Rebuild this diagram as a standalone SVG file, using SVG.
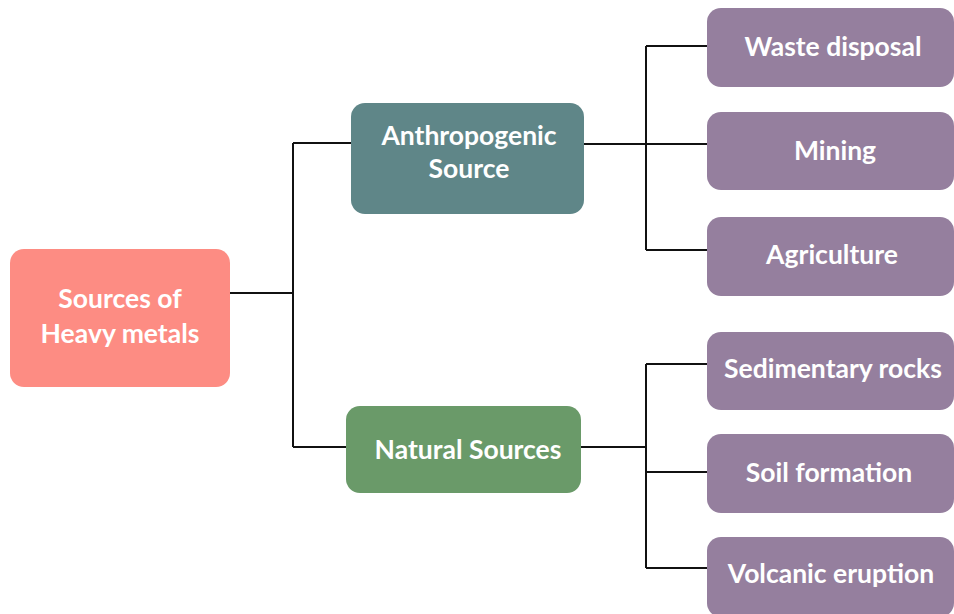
<svg xmlns="http://www.w3.org/2000/svg" width="954" height="614" viewBox="0 0 954 614">
<style>
.t{font-family:Lato,"Open Sans","Liberation Sans",sans-serif;font-weight:bold;font-size:26.5px;fill:#ffffff;text-anchor:middle}
.leaf{fill:#957f9e}
.c{fill:none;stroke:#111111;stroke-width:2}
</style>
<rect width="954" height="614" fill="#ffffff"/>
<g id="connectors">
<path class="c" d="M230 293H293M293 143V447M293 143H351M293 447H346"/>
<path class="c" d="M584 144H707M646 46V250M646 46H707M646 250H707"/>
<path class="c" d="M581 447H646M646 364V568M646 364H707M646 472H707M646 568H707"/>
</g>
<g id="root">
<rect x="10" y="249" width="220" height="138" rx="14" fill="#fd8c83"/>
<text class="t" x="120" y="308">Sources of</text>
<text class="t" x="120" y="343">Heavy metals</text>
</g>
<g id="anthropogenic">
<rect x="351" y="103" width="233" height="111" rx="14" fill="#5f8688"/>
<text class="t" x="469" y="145">Anthropogenic</text>
<text class="t" x="469" y="178">Source</text>
</g>
<g id="natural">
<rect x="346" y="406" width="235" height="87" rx="14" fill="#6a9a69"/>
<text class="t" x="468" y="459">Natural Sources</text>
</g>
<g id="waste">
<rect class="leaf" x="707" y="8" width="247" height="79" rx="14"/>
<text class="t" x="833" y="56">Waste disposal</text>
</g>
<g id="mining">
<rect class="leaf" x="707" y="112" width="247" height="78" rx="14"/>
<text class="t" x="835" y="160">Mining</text>
</g>
<g id="agriculture">
<rect class="leaf" x="707" y="217" width="247" height="79" rx="14"/>
<text class="t" x="832" y="264">Agriculture</text>
</g>
<g id="sedimentary">
<rect class="leaf" x="707" y="332" width="247" height="78" rx="14"/>
<text class="t" x="833" y="378">Sedimentary rocks</text>
</g>
<g id="soil">
<rect class="leaf" x="707" y="434" width="247" height="79" rx="14"/>
<text class="t" x="829" y="482">Soil formation</text>
</g>
<g id="volcanic">
<rect class="leaf" x="707" y="537" width="247" height="80" rx="14"/>
<text class="t" x="831" y="583">Volcanic eruption</text>
</g>
</svg>
